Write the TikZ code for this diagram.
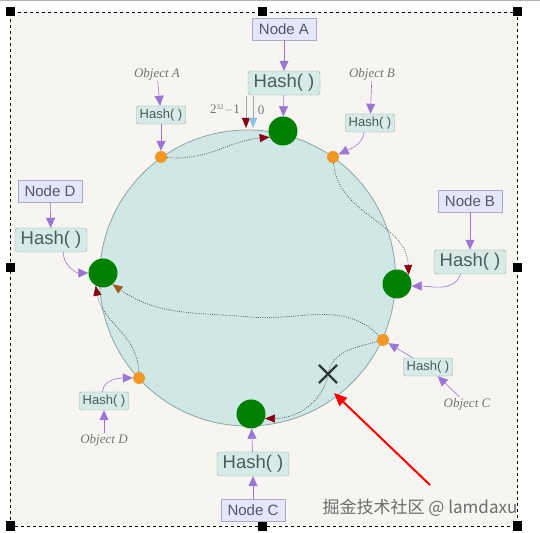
\documentclass[tikz,border=0pt]{standalone}
\usepackage{fontspec}
\setmainfont{Liberation Serif}
\setsansfont{Liberation Sans}
\newfontfamily\cjkfont{Noto Sans CJK SC}
\usepackage{tikz}
\usetikzlibrary{arrows.meta,shapes.misc}
\usepackage{xcolor}
\definecolor{paper}{RGB}{247,245,242}
\definecolor{ringfill}{RGB}{207,232,230}
\definecolor{ringedge}{RGB}{140,165,162}
\definecolor{nodefill}{RGB}{230,230,250}
\definecolor{nodeedge}{RGB}{170,170,200}
\definecolor{nodetext}{RGB}{85,85,110}
\definecolor{hashfill}{RGB}{214,234,230}
\definecolor{hashedge}{RGB}{145,172,166}
\definecolor{hashtext}{RGB}{75,92,92}
\definecolor{linkpurple}{RGB}{155,118,212}
\definecolor{srvgreen}{RGB}{0,128,0}
\definecolor{keyorange}{RGB}{240,152,35}
\definecolor{tipred}{RGB}{135,0,15}
\definecolor{tipbrown}{RGB}{160,90,30}
\definecolor{tipblue}{RGB}{130,195,230}
\definecolor{walkgray}{RGB}{80,80,80}
\tikzstyle{nodebox} = [draw=nodeedge, fill=nodefill, rectangle, text=nodetext, font=\sffamily\fontsize{15}{15}\selectfont, minimum width=64pt, minimum height=22pt, inner sep=2pt]
\tikzstyle{hashbig} = [draw=hashedge, fill=hashfill, rectangle, rounded corners=3pt, text=hashtext, font=\sffamily\fontsize{18.5}{18.5}\selectfont, minimum width=72pt, minimum height=24pt, inner sep=1pt]
\tikzstyle{hashsmall} = [draw=hashedge, fill=hashfill, rectangle, rounded corners=2pt, text=hashtext, font=\sffamily\fontsize{13}{13}\selectfont, minimum width=49pt, minimum height=18pt, inner sep=1pt]
\tikzstyle{objlabel} = [text=gray!90!black, font=\itshape\fontsize{13}{13}\selectfont, inner sep=1pt]
\tikzstyle{server} = [circle, fill=srvgreen, minimum size=29pt, inner sep=0pt]
\tikzstyle{keydot} = [circle, fill=keyorange, minimum size=12pt, inner sep=0pt]
\tikzstyle{hashlink} = [draw=linkpurple, line width=0.6pt, -{Triangle[length=10pt,width=9pt]}]
\tikzstyle{walk} = [draw=walkgray, line width=0.7pt, dash pattern=on 0.9pt off 1.3pt, -{Triangle[length=10pt,width=8pt,color=tipred]}]

\begin{document}
\begin{tikzpicture}[x=1pt,y=1pt]
\useasboundingbox (0,0) rectangle (540,532);
\fill[white] (0,0) rectangle (540,532);
\draw[gray!60, line width=1pt] (0,531) -- (540,531);
\fill[paper] (10,6) rectangle (517,520);
\draw[dashed, line width=0.6pt] (10,6) rectangle (517,520);
\foreach \hx/\hy in {10/520,262/520,517/520,10/264,517/264,10/6,262/6,517/6}
  \fill (\hx-4.5,\hy-4.5) rectangle ++(9,9);

\node[circle, draw=ringedge, fill=ringfill, line width=0.8pt, minimum size=296pt, inner sep=0pt] (ring) at (247.5,254) {};

\node[server] (gA) at (283,401) {};
\node[server] (gB) at (397,248) {};
\node[server] (gC) at (251,118) {};
\node[server] (gD) at (103,259) {};
\node[keydot] (kA) at (161,375) {};
\node[keydot] (kB) at (333,375) {};
\node[keydot] (kC) at (383,192) {};
\node[keydot] (kD) at (139,154) {};

\node[nodebox] (nA) at (284,503) {Node A};
\node[nodebox] (nB) at (470,331) {Node B};
\node[nodebox] (nC) at (253,22) {Node C};
\node[nodebox] (nD) at (50,341) {Node D};
\node[hashbig] (hA) at (284,449) {Hash( )};
\node[hashbig] (hB) at (470,270) {Hash( )};
\node[hashbig] (hC) at (253,68) {Hash( )};
\node[hashbig] (hD) at (51,292) {Hash( )};
\node[hashsmall] (sA) at (161,417) {Hash( )};
\node[hashsmall] (sB) at (370,409) {Hash( )};
\node[hashsmall] (sC) at (428,165) {Hash( )};
\node[hashsmall] (sD) at (104,131) {Hash( )};
\node[objlabel] (oA) at (157,458) {Object A};
\node[objlabel] (oB) at (372,458) {Object B};
\node[objlabel] (oC) at (467,128) {Object C};
\node[objlabel] (oD) at (104,92) {Object D};

\node[cross out, draw={rgb,255:red,50;green,55;blue,55}, line width=2.2pt, minimum size=16pt, inner sep=0pt] (xmark) at (328,158) {};

\node[text=gray!90!black, font=\fontsize{13}{13}\selectfont] (wrap) at (225,422) {2\textsuperscript{\scriptsize 32}$-$1};
\node[text=gray!90!black, font=\fontsize{13}{13}\selectfont] (zero) at (261,422) {0};
\coordinate (wrapTop) at (246,436);
\coordinate (wrapEnd) at (246,404);
\coordinate (zeroTop) at (253,436);
\coordinate (zeroEnd) at (253,404);
\draw[gray!70, line width=0.5pt, -{Triangle[length=10pt,width=8pt,color=tipred]}] (wrapTop) -- (wrapEnd);
\draw[gray!70, line width=0.5pt, -{Triangle[length=10pt,width=8pt,color=tipblue]}] (zeroTop) -- (zeroEnd);

\draw[hashlink] (nA) -- (hA);
\draw[hashlink] (hA) -- (gA);
\draw[hashlink] (nB) -- (hB);
\draw[hashlink] (hB.232) to[out=-110,in=0] (gB.-8);
\draw[hashlink] (nC) -- (hC);
\draw[hashlink] (hC) -- (gC);
\draw[hashlink] (nD) -- (hD);
\draw[hashlink] (hD.-45) to[out=-90,in=180] (gD.west);
\draw[hashlink] (oA) -- (sA);
\draw[hashlink] (sA) -- (kA);
\draw[hashlink] (oB) -- (sB);
\draw[hashlink] (sB.238) to[out=-100,in=25] (kB.25);
\draw[hashlink] (oC) -- (sC);
\draw[hashlink] (sC) -- (kC);
\draw[hashlink] (oD) -- (sD);
\draw[hashlink] (sD.100) to[out=85,in=180] (kD.west);

\draw[walk] (kA) to[out=-5,in=185] (gA.205);
\draw[walk] (kB) to[out=-85,in=92] (gB.38);
\draw[walk, -{Triangle[length=10pt,width=8pt,color=tipbrown]}] (kC) to[out=135,in=-5] (250,215) to[out=175,in=-35] (gD.-50);
\draw[walk] (kC) to[out=195,in=80] (xmark.center) to[out=-100,in=0] (gC.-18);
\draw[walk] (kD) to[out=92,in=-80] (gD.240);

\coordinate (pointFrom) at (430,47);
\coordinate (pointTo) at (334,139);
\draw[red, line width=2pt, -{Triangle[length=13pt,width=11pt]}] (pointFrom) -- (pointTo);

\node[text=gray!85!black, font=\cjkfont\fontsize{17}{17}\selectfont] (mark) at (420,24) {掘金技术社区 @ lamdaxu};
\end{tikzpicture}
\end{document}
